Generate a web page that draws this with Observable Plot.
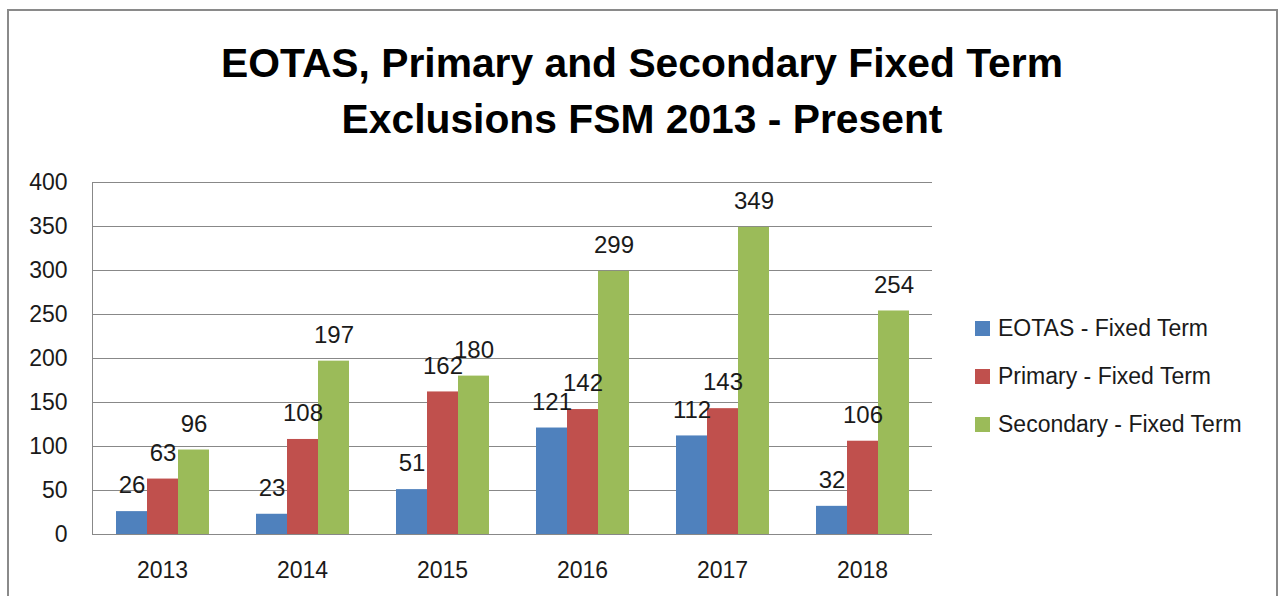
<!DOCTYPE html>
<html>
<head>
<meta charset="utf-8">
<script src="https://cdn.jsdelivr.net/npm/d3@7"></script>
<script src="https://cdn.jsdelivr.net/npm/@observablehq/plot@0.6"></script>
<style>
  html, body { margin: 0; padding: 0; background: #fff; }
  #wrap { position: relative; width: 1281px; height: 596px; overflow: hidden; font-family: "Liberation Sans", Arial, sans-serif; color: #1a1a1a; }
  #border { position: absolute; left: 7px; top: 9px; width: 1271px; height: 700px; border: 2px solid #8a8a8a; box-sizing: border-box; }
  #title { position: relative; margin: 0; padding-top: 35px; padding-left: 3px; text-align: center; font-weight: bold; font-size: 40.8px; line-height: 56px; color: #000; }
  #chart { position: relative; }
  #legend { position: absolute; left: 975px; top: 304px; }
  .row { display: flex; align-items: center; height: 48px; font-size: 23px; color: #1a1a1a; }
  .sw { width: 15px; height: 15px; margin-right: 8px; }
</style>
</head>
<body>
<div id="wrap">
  <div id="border"></div>
  <div id="title">EOTAS, Primary and Secondary Fixed Term<br>Exclusions FSM 2013 - Present</div>
  <div id="chart"></div>
  <div id="legend"></div>
</div>
<script>
const years = ["2013", "2014", "2015", "2016", "2017", "2018"];
const series = ["EOTAS - Fixed Term", "Primary - Fixed Term", "Secondary - Fixed Term"];
const eotas = [26, 23, 51, 121, 112, 32];
const primary = [63, 108, 162, 142, 143, 106];
const secondary = [96, 197, 180, 299, 349, 254];
const colors = ["#4F81BD", "#C0504D", "#9BBB59"];
const yTicks = [0, 50, 100, 150, 200, 250, 300, 350, 400];

const valuesBySeries = [eotas, primary, secondary];
const data = years.flatMap((year, i) =>
  series.map((s, j) => ({year, series: s, value: valuesBySeries[j][i]}))
);

const chart = Plot.plot({
  width: 1281,
  height: 449,
  marginTop: 35,
  marginBottom: 62,
  marginLeft: 91,
  marginRight: 348,
  style: {fontFamily: '"Liberation Sans", Arial, sans-serif', color: "#1a1a1a", background: "transparent", overflow: "visible"},
  fx: {domain: years, padding: 0, label: null},
  x: {domain: series, axis: null, paddingInner: 0, paddingOuter: 0.75, label: null},
  y: {domain: [0, 400], label: null},
  color: {domain: series, range: colors},
  marks: [
    Plot.gridY(yTicks, {stroke: "#888", strokeOpacity: 1}),
    Plot.axisY(yTicks, {tickSize: 0, tickPadding: 25, fontSize: 23, label: null}),
    Plot.axisFx({anchor: "bottom", tickSize: 0, tickPadding: 27, fontSize: 23, label: null}),
    Plot.barY(data, {fx: "year", x: "series", y: "value", fill: "series"}),
    Plot.text(data, {fx: "year", x: "series", y: "value", text: d => String(d.value), dy: -26, fontSize: 24, fill: "#1a1a1a"})
  ]
});
document.getElementById("chart").appendChild(chart);

// left axis line drawn from the plot's own scales
const fxs = chart.scale("fx");
const ys = chart.scale("y");
const x0 = Math.round(fxs.apply(years[0])) + 0.5;
d3.select(chart).append("line")
  .attr("x1", x0).attr("x2", x0)
  .attr("y1", ys.apply(0)).attr("y2", ys.apply(400))
  .attr("stroke", "#888");

const legend = document.getElementById("legend");
series.forEach((s, i) => {
  const row = document.createElement("div");
  row.className = "row";
  const sw = document.createElement("div");
  sw.className = "sw";
  sw.style.background = colors[i];
  const t = document.createElement("span");
  t.textContent = s;
  row.appendChild(sw);
  row.appendChild(t);
  legend.appendChild(row);
});
</script>
</body>
</html>
